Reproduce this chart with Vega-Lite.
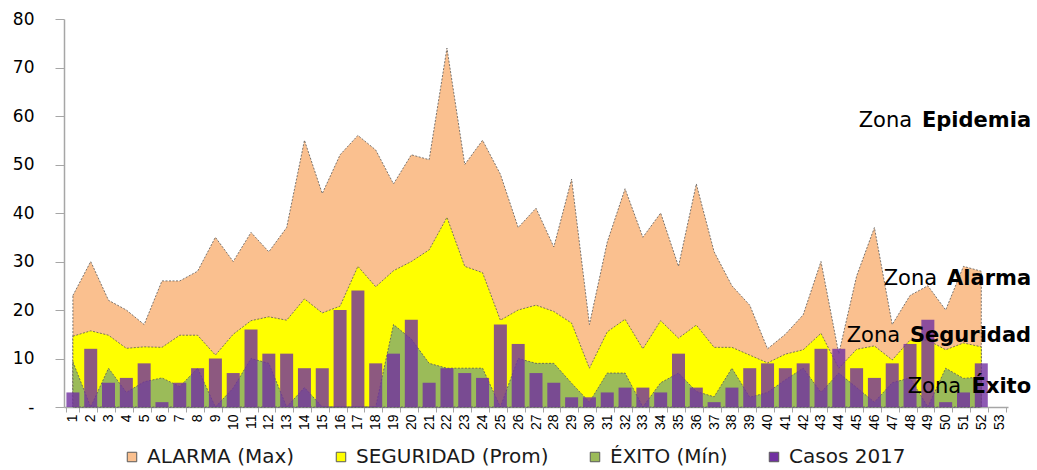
{
  "$schema": "https://vega.github.io/schema/vega-lite/v6.json",
  "width": 944,
  "height": 388,
  "autosize": {"type": "none"},
  "padding": {"left": 64, "top": 19, "right": 29, "bottom": 63},
  "background": "white",
  "config": {"view": {"stroke": null}, "axis": {"grid": false}},
  "data": {
    "values": [
      {"week": 1, "alarma": 23, "seguridad": 14.6, "exito": 9.3, "casos": 3},
      {"week": 2, "alarma": 30, "seguridad": 15.7, "exito": 0, "casos": 12},
      {"week": 3, "alarma": 22, "seguridad": 14.8, "exito": 8, "casos": 5},
      {"week": 4, "alarma": 20, "seguridad": 12.1, "exito": 3, "casos": 6},
      {"week": 5, "alarma": 17, "seguridad": 12.4, "exito": 5.2, "casos": 9},
      {"week": 6, "alarma": 26, "seguridad": 12.3, "exito": 6, "casos": 1},
      {"week": 7, "alarma": 26, "seguridad": 14.8, "exito": 4.2, "casos": 5},
      {"week": 8, "alarma": 28, "seguridad": 14.8, "exito": 8, "casos": 8},
      {"week": 9, "alarma": 35, "seguridad": 10.7, "exito": 0, "casos": 10},
      {"week": 10, "alarma": 30, "seguridad": 15, "exito": 3.9, "casos": 7},
      {"week": 11, "alarma": 36, "seguridad": 17.8, "exito": 10, "casos": 16},
      {"week": 12, "alarma": 32, "seguridad": 18.6, "exito": 9, "casos": 11},
      {"week": 13, "alarma": 37, "seguridad": 17.9, "exito": 0, "casos": 11},
      {"week": 14, "alarma": 55, "seguridad": 22.3, "exito": 4, "casos": 8},
      {"week": 15, "alarma": 44, "seguridad": 19.4, "exito": 0, "casos": 8},
      {"week": 16, "alarma": 52, "seguridad": 20.8, "exito": 0, "casos": 20},
      {"week": 17, "alarma": 56, "seguridad": 29, "exito": 0, "casos": 24},
      {"week": 18, "alarma": 53, "seguridad": 24.8, "exito": 0, "casos": 9},
      {"week": 19, "alarma": 46, "seguridad": 28.1, "exito": 17, "casos": 11},
      {"week": 20, "alarma": 52, "seguridad": 30, "exito": 14, "casos": 18},
      {"week": 21, "alarma": 51, "seguridad": 32.4, "exito": 9, "casos": 5},
      {"week": 22, "alarma": 74, "seguridad": 39.1, "exito": 8, "casos": 8},
      {"week": 23, "alarma": 50, "seguridad": 29, "exito": 8, "casos": 7},
      {"week": 24, "alarma": 55, "seguridad": 27.7, "exito": 8, "casos": 6},
      {"week": 25, "alarma": 48, "seguridad": 17.9, "exito": 0, "casos": 17},
      {"week": 26, "alarma": 37, "seguridad": 20, "exito": 10, "casos": 13},
      {"week": 27, "alarma": 41, "seguridad": 21, "exito": 9, "casos": 7},
      {"week": 28, "alarma": 33, "seguridad": 19.7, "exito": 9, "casos": 5},
      {"week": 29, "alarma": 47, "seguridad": 17.3, "exito": 4.9, "casos": 2},
      {"week": 30, "alarma": 17, "seguridad": 8, "exito": 1, "casos": 2},
      {"week": 31, "alarma": 34, "seguridad": 15.5, "exito": 7, "casos": 3},
      {"week": 32, "alarma": 45, "seguridad": 18.1, "exito": 7, "casos": 4},
      {"week": 33, "alarma": 35, "seguridad": 12, "exito": 0, "casos": 4},
      {"week": 34, "alarma": 40, "seguridad": 17.8, "exito": 5, "casos": 3},
      {"week": 35, "alarma": 29, "seguridad": 14.2, "exito": 7, "casos": 11},
      {"week": 36, "alarma": 46, "seguridad": 16.9, "exito": 3.2, "casos": 4},
      {"week": 37, "alarma": 32, "seguridad": 12.3, "exito": 2.1, "casos": 1},
      {"week": 38, "alarma": 25, "seguridad": 12.3, "exito": 8, "casos": 4},
      {"week": 39, "alarma": 21, "seguridad": 10.7, "exito": 2, "casos": 8},
      {"week": 40, "alarma": 12, "seguridad": 9.1, "exito": 3, "casos": 9},
      {"week": 41, "alarma": 15, "seguridad": 10.9, "exito": 5.6, "casos": 8},
      {"week": 42, "alarma": 19, "seguridad": 11.8, "exito": 8, "casos": 9},
      {"week": 43, "alarma": 30, "seguridad": 15.2, "exito": 3, "casos": 12},
      {"week": 44, "alarma": 11, "seguridad": 8, "exito": 7, "casos": 12},
      {"week": 45, "alarma": 27, "seguridad": 11.9, "exito": 4, "casos": 8},
      {"week": 46, "alarma": 37, "seguridad": 12.6, "exito": 1, "casos": 6},
      {"week": 47, "alarma": 17, "seguridad": 9.7, "exito": 5, "casos": 9},
      {"week": 48, "alarma": 23, "seguridad": 13.8, "exito": 6, "casos": 13},
      {"week": 49, "alarma": 25, "seguridad": 13.8, "exito": 0, "casos": 18},
      {"week": 50, "alarma": 20, "seguridad": 11.8, "exito": 8, "casos": 1},
      {"week": 51, "alarma": 29, "seguridad": 13.2, "exito": 5.9, "casos": 3},
      {"week": 52, "alarma": 28, "seguridad": 12.4, "exito": 6.2, "casos": 9}
    ]
  },
  "encoding": {
    "x": {
      "field": "week",
      "type": "ordinal",
      "scale": {
        "type": "band",
        "domain": [1,2,3,4,5,6,7,8,9,10,11,12,13,14,15,16,17,18,19,20,21,22,23,24,25,26,27,28,29,30,31,32,33,34,35,36,37,38,39,40,41,42,43,44,45,46,47,48,49,50,51,52,53],
        "paddingInner": 0.27,
        "paddingOuter": 0.135
      },
      "axis": {
        "title": null,
        "labelAngle": -90,
        "labelFont": "Liberation Sans",
        "labelFontSize": 14,
        "labelColor": "#000000",
        "labelPadding": 2,
        "labelOverlap": false,
        "tickBand": "extent",
        "tickSize": 5,
        "tickColor": "#A6A6A6",
        "domainColor": "#A6A6A6",
        "domainWidth": 1.5
      }
    }
  },
  "layer": [
    {
      "mark": {"type": "area", "stroke": "#595959", "strokeWidth": 0.8, "strokeDash": [2, 1.5]},
      "encoding": {
        "y": {
          "field": "alarma",
          "type": "quantitative",
          "scale": {"domain": [0, 80], "nice": false},
          "axis": {
            "title": null,
            "values": [0, 10, 20, 30, 40, 50, 60, 70, 80],
            "labelExpr": "datum.value === 0 ? '-\u00a0\u00a0' : datum.label",
            "labelFont": "DejaVu Sans",
            "labelFontSize": 17,
            "labelColor": "#000000",
            "labelPadding": 21,
            "tickSize": 9,
            "tickColor": "#A6A6A6",
            "domainColor": "#A6A6A6",
            "domainWidth": 1.5
          }
        },
        "color": {
          "datum": "ALARMA (Max)",
          "type": "nominal",
          "scale": {
            "domain": ["ALARMA (Max)", "SEGURIDAD (Prom)", "ÉXITO (Mín)", "Casos 2017"],
            "range": ["#FAC08F", "#FFFF00", "#9BBB59", "#7030A0"]
          },
          "legend": {
            "orient": "none",
            "legendX": 58,
            "legendY": 428,
            "direction": "horizontal",
            "title": null,
            "padding": 0,
            "symbolType": "square",
            "symbolSize": 90,
            "symbolOpacity": 1,
            "symbolStrokeColor": "#7F7F7F",
            "symbolStrokeWidth": 1,
            "labelFont": "DejaVu Sans",
            "labelFontSize": 20,
            "labelColor": "#1A1A1A",
            "labelOffset": 5,
            "labelLimit": 0,
            "columnPadding": 36
          }
        }
      }
    },
    {
      "mark": {"type": "area", "stroke": "#595959", "strokeWidth": 0.8, "strokeDash": [2, 1.5]},
      "encoding": {
        "y": {"field": "seguridad", "type": "quantitative", "axis": {"title": null}},
        "color": {"datum": "SEGURIDAD (Prom)", "type": "nominal"}
      }
    },
    {
      "mark": {"type": "area", "stroke": "#595959", "strokeWidth": 0.8, "strokeDash": [2, 1.5]},
      "encoding": {
        "y": {"field": "exito", "type": "quantitative", "axis": {"title": null}},
        "color": {"datum": "ÉXITO (Mín)", "type": "nominal"}
      }
    },
    {
      "mark": {"type": "bar", "opacity": 0.8},
      "encoding": {
        "y": {"field": "casos", "type": "quantitative", "axis": {"title": null}},
        "color": {"datum": "Casos 2017", "type": "nominal"}
      }
    },
    {
      "data": {"values": [{}]},
      "mark": {"type": "text", "text": "Zona", "align": "right", "baseline": "alphabetic", "dx": -87, "font": "DejaVu Sans", "fontSize": 21, "color": "#000000"},
      "encoding": {"x": {"datum": 53, "type": "ordinal"}, "y": {"datum": 57.7, "type": "quantitative"}}
    },
    {
      "data": {"values": [{}]},
      "mark": {"type": "text", "text": "Epidemia", "align": "right", "baseline": "alphabetic", "dx": 32, "font": "DejaVu Sans", "fontSize": 21, "fontWeight": "bold", "color": "#000000"},
      "encoding": {"x": {"datum": 53, "type": "ordinal"}, "y": {"datum": 57.7, "type": "quantitative"}}
    },
    {
      "data": {"values": [{}]},
      "mark": {"type": "text", "text": "Zona", "align": "right", "baseline": "alphabetic", "dx": -62, "font": "DejaVu Sans", "fontSize": 21, "color": "#000000"},
      "encoding": {"x": {"datum": 53, "type": "ordinal"}, "y": {"datum": 25.15, "type": "quantitative"}}
    },
    {
      "data": {"values": [{}]},
      "mark": {"type": "text", "text": "Alarma", "align": "right", "baseline": "alphabetic", "dx": 32, "font": "DejaVu Sans", "fontSize": 21, "fontWeight": "bold", "color": "#000000"},
      "encoding": {"x": {"datum": 53, "type": "ordinal"}, "y": {"datum": 25.15, "type": "quantitative"}}
    },
    {
      "data": {"values": [{}]},
      "mark": {"type": "text", "text": "Zona", "align": "right", "baseline": "alphabetic", "dx": -99, "font": "DejaVu Sans", "fontSize": 21, "color": "#000000"},
      "encoding": {"x": {"datum": 53, "type": "ordinal"}, "y": {"datum": 13.5, "type": "quantitative"}}
    },
    {
      "data": {"values": [{}]},
      "mark": {"type": "text", "text": "Seguridad", "align": "right", "baseline": "alphabetic", "dx": 32, "font": "DejaVu Sans", "fontSize": 21, "fontWeight": "bold", "color": "#000000"},
      "encoding": {"x": {"datum": 53, "type": "ordinal"}, "y": {"datum": 13.5, "type": "quantitative"}}
    },
    {
      "data": {"values": [{}]},
      "mark": {"type": "text", "text": "Zona", "align": "right", "baseline": "alphabetic", "dx": -38, "font": "DejaVu Sans", "fontSize": 21, "color": "#000000"},
      "encoding": {"x": {"datum": 53, "type": "ordinal"}, "y": {"datum": 2.9, "type": "quantitative"}}
    },
    {
      "data": {"values": [{}]},
      "mark": {"type": "text", "text": "Éxito", "align": "right", "baseline": "alphabetic", "dx": 32, "font": "DejaVu Sans", "fontSize": 21, "fontWeight": "bold", "color": "#000000"},
      "encoding": {"x": {"datum": 53, "type": "ordinal"}, "y": {"datum": 2.9, "type": "quantitative"}}
    }
  ]
}
